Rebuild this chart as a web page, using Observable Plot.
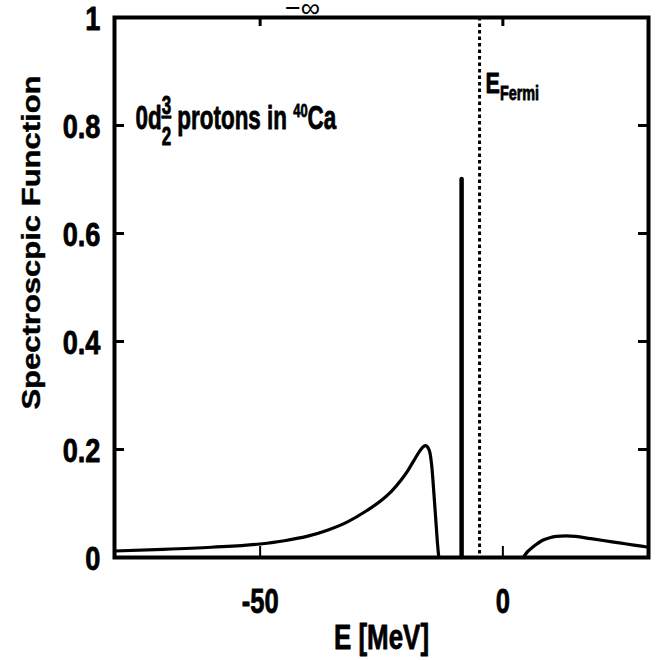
<!DOCTYPE html>
<html>
<head>
<meta charset="utf-8">
<script src="https://cdn.jsdelivr.net/npm/d3@7"></script>
<script src="https://cdn.jsdelivr.net/npm/@observablehq/plot@0.6"></script>
<style>
  html, body { margin: 0; padding: 0; background: #ffffff; }
  #chart svg { display: block; }
</style>
</head>
<body>
<div id="chart"></div>
<script>
// ---------- data ----------
// continuum below the Fermi energy
const energyLow = [-80, -70, -60, -50, -45, -40, -36, -32, -28, -25, -23, -21, -19.5, -18.3, -17.2, -16.4, -15.9, -15.4, -15.0, -14.6, -14.2, -13.8, -13.5, -13.2];
const strengthLow = [0.012, 0.015, 0.019, 0.025, 0.031, 0.040, 0.051, 0.066, 0.087, 0.106, 0.122, 0.143, 0.162, 0.180, 0.196, 0.205, 0.207, 0.203, 0.193, 0.165, 0.118, 0.068, 0.030, 0.0];
// continuum above the Fermi energy
const energyHigh = [4.2, 5, 6, 7, 8, 9.5, 11, 13, 15, 18, 21, 24, 27, 30];
const strengthHigh = [0.0, 0.010, 0.018, 0.025, 0.031, 0.036, 0.039, 0.040, 0.039, 0.035, 0.031, 0.027, 0.023, 0.019];
// quasiparticle peak
const peakEnergy = [-8.5];
const peakStrength = [0.70];
// Fermi energy
const fermiEnergy = [-4.8];
// ticks
const xTicks = [-50, 0];
const yTicks = [0, 0.2, 0.4, 0.6, 0.8, 1];
const yInnerTicks = [0.2, 0.4, 0.6, 0.8];
// texts
const xLabel = "E [MeV]";
const yLabel = "Spectroscpic Function";
const stateLabelParts = ["0d", "3", "2", " protons in ", "40", "Ca"];
const fermiLabelParts = ["E", "Fermi"];
const topLabel = "\u2212\u221E";

// ---------- layout ----------
const W = 658, H = 660;
const mL = 114, mR = 10, mT = 17, mB = 103;
const frameW = W - mL - mR, frameH = H - mT - mB;
const sans = "'Liberation Sans', Arial, Helvetica, sans-serif";

const lowData = energyLow.map((e, i) => ({E: e, A: strengthLow[i]}));
const highData = energyHigh.map((e, i) => ({E: e, A: strengthHigh[i]}));
const peakData = peakEnergy.map((e, i) => ({E: e, A: peakStrength[i]}));

const chart = Plot.plot({
  width: W,
  height: H,
  marginLeft: mL,
  marginRight: mR,
  marginTop: mT,
  marginBottom: mB,
  style: {background: "#ffffff", color: "#000000", overflow: "visible"},
  x: {domain: [-80, 30]},
  y: {domain: [0, 1]},
  marks: [
    // tick labels
    Plot.axisX({ticks: xTicks, tickSize: 0, tickPadding: 31, label: null,
      tickFormat: d => String(d),
      fontSize: 35, fontWeight: "bold", fontFamily: sans}),
    Plot.axisY({ticks: yTicks, tickSize: 0, tickPadding: 14, label: null, dy: 2,
      tickFormat: d => String(d),
      fontSize: 34, fontWeight: "bold", fontFamily: sans}),
    // inward tick marks
    Plot.tickX(xTicks, {x: d => d, insetTop: frameH - 11, strokeWidth: 2}),
    Plot.tickX(xTicks, {x: d => d, insetBottom: frameH - 9, strokeWidth: 3}),
    Plot.tickY(yInnerTicks, {y: d => d, insetRight: frameW - 10, strokeWidth: 3}),
    Plot.tickY(yInnerTicks, {y: d => d, insetLeft: frameW - 10, strokeWidth: 3}),
    // Fermi energy
    Plot.ruleX(fermiEnergy, {x: d => d, strokeWidth: 3, strokeDasharray: "3.5,3"}),
    // quasiparticle peak
    Plot.ruleX(peakData, {x: "E", y1: 0, y2: "A", strokeWidth: 4.5, strokeLinecap: "round"}),
    // continuum
    Plot.line(lowData, {x: "E", y: "A", strokeWidth: 3.2, curve: "monotone-x", strokeLinejoin: "round"}),
    Plot.line(highData, {x: "E", y: "A", strokeWidth: 3.2, curve: "monotone-x", strokeLinejoin: "round"}),
    // frame
    Plot.frame({strokeWidth: 4}),
    // axis titles
    Plot.text([xLabel], {frameAnchor: "bottom", dy: 91, lineAnchor: "bottom", textAnchor: "middle",
      fontSize: 36, fontWeight: "bold", fontFamily: sans}),
    Plot.text([yLabel], {frameAnchor: "left", rotate: -90, dx: -83, dy: -45, lineAnchor: "middle", textAnchor: "middle",
      fontSize: 25, fontWeight: "bold", fontFamily: sans}),
    // annotations
    Plot.text([stateLabelParts.join("")], {frameAnchor: "top-left", dx: 21, dy: 111, lineAnchor: "bottom", textAnchor: "start",
      fontSize: 33, fontWeight: "bold", fontFamily: sans}),
    Plot.text([fermiLabelParts.join("")], {frameAnchor: "top-left", dx: 371, dy: 75, lineAnchor: "bottom", textAnchor: "start",
      fontSize: 30, fontWeight: "bold", fontFamily: sans}),
    Plot.text([topLabel], {frameAnchor: "top-left", dx: 188, dy: -1, lineAnchor: "bottom", textAnchor: "middle",
      fontSize: 27, fontFamily: sans})
  ]
});

document.getElementById("chart").appendChild(chart);

// ---------- rich text (fraction, superscript, subscript) ----------
const SVGNS = "http://www.w3.org/2000/svg";
const allTexts = () => Array.from(chart.querySelectorAll("text"));
const findText = str => allTexts().find(t => t.textContent === str);

function richText(t, parts) {
  if (!t) return;
  t.textContent = "";
  const spans = [];
  for (const p of parts) {
    const ts = document.createElementNS(SVGNS, "tspan");
    ts.textContent = p.text;
    for (const k in p.attrs || {}) ts.setAttribute(k, p.attrs[k]);
    t.appendChild(ts);
    spans.push(ts);
    if (p.after) p.after(ts, spans);
  }
}

// horizontal condensing of a text about its own anchor (the original artwork uses a narrow face)
function condense(t, sx, sy = 1) {
  if (!t) return;
  let tr = t.getAttribute("transform");
  if (!tr) {
    const x = +(t.getAttribute("x") || 0), y = +(t.getAttribute("y") || 0);
    t.removeAttribute("x"); t.removeAttribute("y");
    tr = `translate(${x},${y})`;
  }
  t.setAttribute("transform", `${tr} scale(${sx},${sy})`);
}
function embolden(t, w = 0.7) {
  if (!t) return;
  t.setAttribute("stroke", "#000000");
  t.setAttribute("stroke-width", w);
  t.setAttribute("stroke-linejoin", "round");
  t.setAttribute("paint-order", "fill");
}

const stateText = findText(stateLabelParts.join(""));
const fermiText = findText(fermiLabelParts.join(""));
const xLabelText = findText(xLabel);
const yLabelText = findText(yLabel);

richText(stateText, [
  {text: stateLabelParts[0]},
  {text: stateLabelParts[1], attrs: {"font-size": 25, dy: -15, "text-decoration": "underline"}},
  {text: stateLabelParts[2], attrs: {"font-size": 25, dy: 31},
    after: (ts, spans) => ts.setAttribute("dx", -spans[1].getComputedTextLength())},
  {text: stateLabelParts[3], attrs: {"font-size": 33, dy: -16}},
  {text: stateLabelParts[4], attrs: {"font-size": 19, dy: -12}},
  {text: stateLabelParts[5], attrs: {"font-size": 33, dy: 12}}
]);

richText(fermiText, [
  {text: fermiLabelParts[0]},
  {text: fermiLabelParts[1], attrs: {"font-size": 20, dy: 7}}
]);

// tick labels
for (const g of chart.querySelectorAll("g[aria-label]")) {
  const lab = g.getAttribute("aria-label") || "";
  if (lab.includes("x-axis tick label")) g.querySelectorAll("text").forEach(t => { condense(t, 0.73); embolden(t, 0.8); });
  if (lab.includes("y-axis tick label")) g.querySelectorAll("text").forEach(t => { condense(t, 0.8); embolden(t, 0.8); });
}
condense(stateText, 0.68); embolden(stateText, 0.8);
condense(fermiText, 0.72); embolden(fermiText, 0.8);
condense(xLabelText, 0.72); embolden(xLabelText, 0.8);
condense(yLabelText, 1.24); embolden(yLabelText, 0.4);
</script>
</body>
</html>
